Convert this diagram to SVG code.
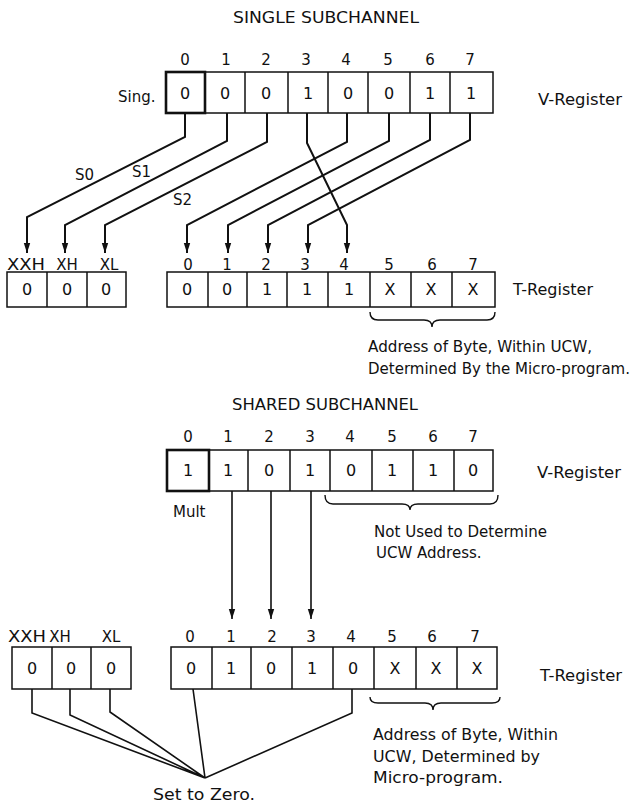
<svg xmlns="http://www.w3.org/2000/svg" width="639" height="808" viewBox="0 0 639 808">
<style>
text{font-family:"DejaVu Sans","Liberation Sans",sans-serif;fill:#111}
.t{font-size:15px}
.d{font-size:16px;text-anchor:middle}
.n{font-size:15px;text-anchor:middle}
.c{fill:#fff;stroke:#111;stroke-width:1.5}
.k{fill:#fff;stroke:#111;stroke-width:2.6}
.l{fill:none;stroke:#111;stroke-width:2}
.w{fill:none;stroke:#111;stroke-width:1.6}
.b{fill:none;stroke:#111;stroke-width:1.4}
</style>
<defs>
<marker id="ah" markerUnits="userSpaceOnUse" markerWidth="10" markerHeight="8" refX="10" refY="4" orient="auto">
<path d="M0,0.8 L10,4 L0,7.2 z" fill="#111"/>
</marker>
</defs>
<rect width="639" height="808" fill="#fff"/>

<text x="233" y="23" class="t" textLength="186" lengthAdjust="spacingAndGlyphs">SINGLE SUBCHANNEL</text>

<g id="single-v">
<rect class="c" x="205" y="72" width="288" height="41"/>
<path class="c" d="M245,72V113M288,72V113M328,72V113M368,72V113M410,72V113M450,72V113"/>
<rect class="k" x="166" y="72" width="39" height="41"/>
<g class="n"><text x="185" y="65">0</text><text x="226" y="65">1</text><text x="266" y="65">2</text><text x="306" y="65">3</text><text x="346" y="65">4</text><text x="388" y="65">5</text><text x="430" y="65">6</text><text x="470" y="65">7</text></g>
<g class="d"><text x="185" y="99">0</text><text x="225" y="99">0</text><text x="266" y="99">0</text><text x="308" y="99">1</text><text x="348" y="99">0</text><text x="389" y="99">0</text><text x="430" y="99">1</text><text x="471" y="99">1</text></g>
<text x="118" y="102" class="t">Sing.</text>
<text x="538" y="105" class="t" textLength="84" lengthAdjust="spacingAndGlyphs">V-Register</text>
</g>

<g id="single-connectors">
<path class="l" marker-end="url(#ah)" d="M185,113V137L27,217V253"/>
<path class="l" marker-end="url(#ah)" d="M227,113V141L65,225V253"/>
<path class="l" marker-end="url(#ah)" d="M267,113V142L105,225V253"/>
<path class="l" marker-end="url(#ah)" d="M307,113V143L347,225V253"/>
<path class="l" marker-end="url(#ah)" d="M347,113V142L187,225V253"/>
<path class="l" marker-end="url(#ah)" d="M389,113V141L228,225V253"/>
<path class="l" marker-end="url(#ah)" d="M430,113V140L268,225V253"/>
<path class="l" marker-end="url(#ah)" d="M470,113V140L308,225V253"/>
<text x="75" y="180" class="t">S0</text>
<text x="132" y="177" class="t">S1</text>
<text x="173" y="205" class="t">S2</text>
</g>

<g id="single-t">
<rect class="c" x="7" y="272" width="119" height="35"/>
<path class="c" d="M47,272V307M87,272V307"/>
<rect class="c" x="167" y="272" width="328" height="35"/>
<path class="c" d="M208,272V307M247,272V307M287,272V307M328,272V307M370,272V307M411,272V307M452,272V307"/>
<g class="n"><text x="26" y="270" textLength="38" lengthAdjust="spacingAndGlyphs">XXH</text><text x="67" y="270">XH</text><text x="109" y="270">XL</text>
<text x="188" y="270">0</text><text x="227" y="270">1</text><text x="266" y="270">2</text><text x="305" y="270">3</text><text x="344" y="270">4</text><text x="389" y="270">5</text><text x="432" y="270">6</text><text x="473" y="270">7</text></g>
<g class="d"><text x="27" y="295">0</text><text x="67" y="295">0</text><text x="106" y="295">0</text>
<text x="187" y="295">0</text><text x="227" y="295">0</text><text x="267" y="295">1</text><text x="307" y="295">1</text><text x="349" y="295">1</text><text x="390" y="295">X</text><text x="431" y="295">X</text><text x="473" y="295">X</text></g>
<text x="513" y="295" class="t" textLength="80" lengthAdjust="spacingAndGlyphs">T-Register</text>
<path class="b" d="M370,312Q370,320 378,320H424Q432,320 432,327Q432,320 440,320H487Q495,320 495,312"/>
<text x="368" y="352" class="t" textLength="224" lengthAdjust="spacingAndGlyphs">Address of Byte, Within UCW,</text>
<text x="368" y="374" class="t" textLength="262" lengthAdjust="spacingAndGlyphs">Determined By the Micro-program.</text>
</g>

<text x="232" y="410" class="t" textLength="186" lengthAdjust="spacingAndGlyphs">SHARED SUBCHANNEL</text>

<g id="shared-v">
<rect class="c" x="209" y="450" width="284" height="41"/>
<path class="c" d="M248,450V491M290,450V491M330,450V491M372,450V491M413,450V491M454,450V491"/>
<rect class="k" x="167" y="450" width="42" height="41"/>
<g class="n"><text x="188" y="442">0</text><text x="228" y="442">1</text><text x="269" y="442">2</text><text x="310" y="442">3</text><text x="350" y="442">4</text><text x="392" y="442">5</text><text x="433" y="442">6</text><text x="473" y="442">7</text></g>
<g class="d"><text x="188" y="476">1</text><text x="228" y="476">1</text><text x="269" y="476">0</text><text x="310" y="476">1</text><text x="351" y="476">0</text><text x="392" y="476">1</text><text x="433" y="476">1</text><text x="473" y="476">0</text></g>
<text x="537" y="478" class="t" textLength="84" lengthAdjust="spacingAndGlyphs">V-Register</text>
<text x="173" y="517" class="t">Mult</text>
<path class="b" d="M325,495Q325,504 333,504H402Q410,504 410,510Q410,504 418,504H490Q498,504 498,495"/>
<text x="374" y="537" class="t" textLength="173" lengthAdjust="spacingAndGlyphs">Not Used to Determine</text>
<text x="376" y="558" class="t">UCW Address.</text>
</g>

<g id="shared-connectors">
<path class="w" marker-end="url(#ah)" d="M232,491V619"/>
<path class="w" marker-end="url(#ah)" d="M271,491V619"/>
<path class="w" marker-end="url(#ah)" d="M311,491V619"/>
<path class="w" d="M32,689V713L205,778M70,689V715L205,778M110,689V712L205,778M193,689L205,778M352,689V713L205,778"/>
<text x="153" y="800" class="t" textLength="102" lengthAdjust="spacingAndGlyphs">Set to Zero.</text>
</g>

<g id="shared-t">
<rect class="c" x="12" y="647" width="119" height="42"/>
<path class="c" d="M52,647V689M91,647V689"/>
<rect class="c" x="171" y="647" width="326" height="42"/>
<path class="c" d="M212,647V689M251,647V689M292,647V689M333,647V689M374,647V689M416,647V689M457,647V689"/>
<g class="n"><text x="27" y="642" textLength="38" lengthAdjust="spacingAndGlyphs">XXH</text><text x="60" y="642">XH</text><text x="111" y="642">XL</text>
<text x="190" y="642">0</text><text x="231" y="642">1</text><text x="272" y="642">2</text><text x="311" y="642">3</text><text x="351" y="642">4</text><text x="392" y="642">5</text><text x="432" y="642">6</text><text x="475" y="642">7</text></g>
<g class="d"><text x="32" y="674">0</text><text x="71" y="674">0</text><text x="111" y="674">0</text>
<text x="191" y="674">0</text><text x="231" y="674">1</text><text x="271" y="674">0</text><text x="312" y="674">1</text><text x="353" y="674">0</text><text x="395" y="674">X</text><text x="436" y="674">X</text><text x="477" y="674">X</text></g>
<text x="540" y="681" class="t" textLength="82" lengthAdjust="spacingAndGlyphs">T-Register</text>
<path class="b" d="M370,697Q370,703 378,703H425Q433,703 433,710Q433,703 441,703H492Q500,703 500,697"/>
<text x="373" y="740" class="t" textLength="185" lengthAdjust="spacingAndGlyphs">Address of Byte, Within</text>
<text x="373" y="762" class="t" textLength="167" lengthAdjust="spacingAndGlyphs">UCW, Determined by</text>
<text x="373" y="783" class="t" textLength="130" lengthAdjust="spacingAndGlyphs">Micro-program.</text>
</g>
</svg>
